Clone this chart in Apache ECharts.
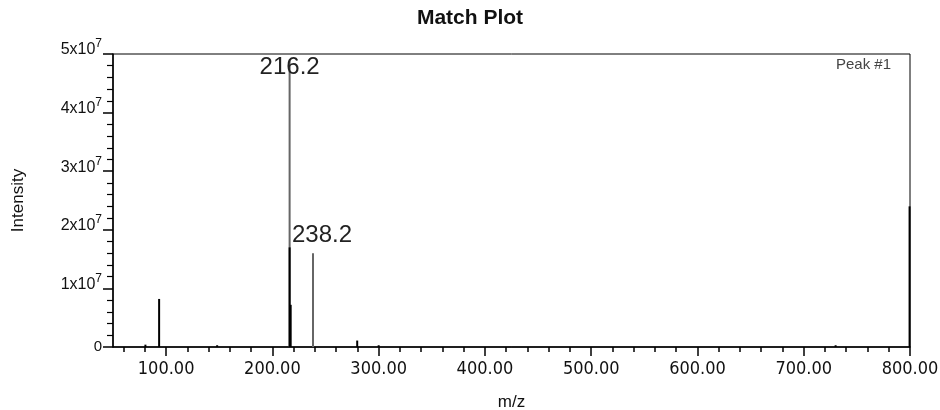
<!DOCTYPE html>
<html>
<head>
<meta charset="utf-8">
<script src="https://cdn.jsdelivr.net/npm/echarts@6/dist/echarts.min.js"></script>
<style>
  html, body { margin: 0; padding: 0; background: #fff; }
  #chart { width: 940px; height: 410px; }
</style>
</head>
<body>
<div id="chart"></div>
<script>
  // m/z tick labels (major) and minor tick positions
  var mzTicks = [100, 200, 300, 400, 500, 600, 700, 800];
  var mzMinorTicks = [60, 80, 120, 140, 160, 180, 220, 240, 260, 280, 320, 340, 360, 380,
    420, 440, 460, 480, 520, 540, 560, 580, 620, 640, 660, 680, 720, 740, 760, 780];

  // sample spectrum (solid sticks)
  var sampleMz = [80.5, 93.4, 148.0, 216.2, 217.2, 279.8, 300.0, 730.0, 799.6];
  var sampleIntensity = [0.04e7, 0.82e7, 0.03e7, 1.7e7, 0.72e7, 0.11e7, 0.03e7, 0.03e7, 2.4e7];

  // library spectrum (lighter sticks, labelled)
  var libMz = [216.2, 238.2];
  var libIntensity = [4.9e7, 1.6e7];
  var libLabels = ['216.2', '238.2'];

  var chart = echarts.init(document.getElementById('chart'));

  var sampleData = sampleMz.map(function (m, i) { return [m, sampleIntensity[i]]; });
  var libData = libMz.map(function (m, i) {
    return {
      value: [m, libIntensity[i]],
      label: {
        show: true,
        formatter: libLabels[i],
        offset: i === 0 ? [0, 26] : [9, 0]
      }
    };
  });

  var font = 'Liberation Sans, Arial, sans-serif';

  chart.setOption({
    backgroundColor: '#fff',
    animation: false,
    title: [{
      text: 'Match Plot',
      left: 'center',
      top: 3,
      textStyle: { fontSize: 21, fontWeight: 'bold', color: '#111', fontFamily: font }
    }, {
      text: 'Peak #1',
      right: 44,
      top: 52,
      textStyle: { fontSize: 15, fontWeight: 'normal', color: '#444', fontFamily: font }
    }],
    grid: {
      left: 113, right: 30, top: 54, bottom: 63,
      outerBoundsMode: 'none',
      containLabel: false,
      show: true, borderColor: '#000', borderWidth: 1
    },
    xAxis: [{
      type: 'value',
      min: 50, max: 800,
      name: 'm/z',
      nameLocation: 'middle',
      nameGap: 47,
      nameTextStyle: { fontSize: 17, color: '#111', fontFamily: font },
      axisLine: { show: true, lineStyle: { color: '#000', width: 1.5 } },
      axisTick: { show: true, inside: false, customValues: mzTicks, length: 9, lineStyle: { color: '#000', width: 1.5 } },
      axisLabel: {
        customValues: mzTicks,
        formatter: function (v) { return v.toFixed(2); },
        fontSize: 18, color: '#111', margin: 13,
        fontFamily: 'Liberation Sans Narrow, Arial Narrow, DejaVu Sans Condensed, sans-serif'
      },
      splitLine: { show: false }
    }, {
      type: 'value',
      min: 50, max: 800,
      position: 'bottom',
      axisLine: { show: false },
      axisTick: { show: true, inside: false, customValues: mzMinorTicks, length: 5, lineStyle: { color: '#000', width: 1.5 } },
      axisLabel: { show: false },
      splitLine: { show: false }
    }],
    yAxis: {
      type: 'value',
      min: 0, max: 5e7, interval: 1e7,
      name: 'Intensity',
      nameLocation: 'middle',
      nameGap: 86,
      nameTextStyle: { fontSize: 17, color: '#111', fontFamily: font },
      axisLine: { show: true, lineStyle: { color: '#000', width: 1.5 } },
      axisTick: { show: true, inside: false, length: 10, lineStyle: { color: '#000', width: 1.5 } },
      minorTick: { show: true, splitNumber: 5, length: 6, lineStyle: { color: '#000', width: 1.2 } },
      splitLine: { show: false },
      axisLabel: {
        margin: 11,
        color: '#111',
        fontFamily: font,
        fontSize: 15,
        formatter: function (v) {
          if (v === 0) return '{z|0}';
          return '{b|' + (v / 1e7) + 'x10}{s|7}';
        },
        rich: {
          z: { fontSize: 15, fontFamily: font, color: '#111' },
          b: { fontSize: 16, fontFamily: font, color: '#111', padding: [0, 0, 8, 0] },
          s: { fontSize: 12, fontFamily: font, color: '#111', padding: [0, 0, 20, 0] }
        }
      }
    },
    series: [{
      name: 'Library',
      type: 'bar',
      barWidth: 2,
      barGap: '-100%',
      itemStyle: { color: '#666' },
      label: {
        position: 'top',
        distance: 6,
        fontSize: 24,
        color: '#222',
        fontFamily: font
      },
      data: libData
    }, {
      name: 'Sample',
      type: 'bar',
      barWidth: 2,
      barGap: '-100%',
      itemStyle: { color: '#000' },
      data: sampleData
    }]
  });
</script>
</body>
</html>
